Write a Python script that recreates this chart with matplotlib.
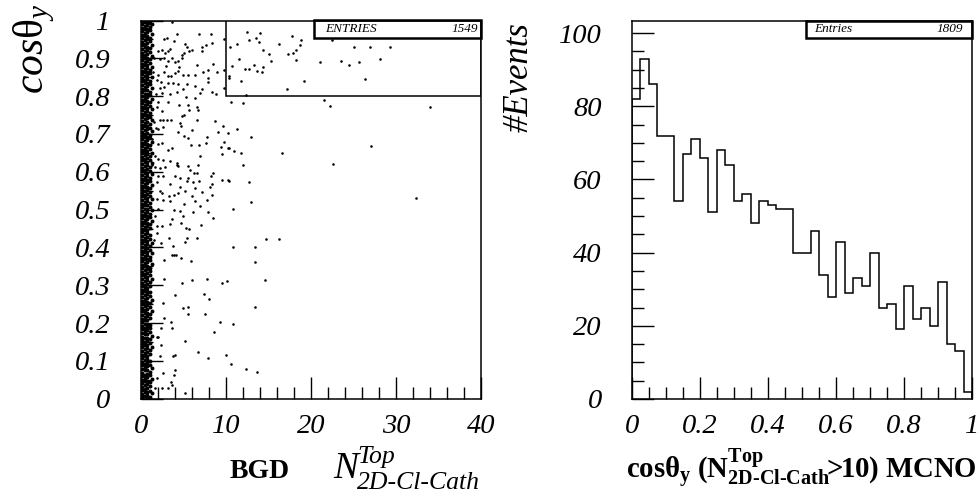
import numpy as np
import matplotlib
matplotlib.use("Agg")
import matplotlib.pyplot as plt
from matplotlib.patches import Rectangle
from matplotlib.ticker import MultipleLocator, FuncFormatter

plt.rcParams['font.family'] = ['Liberation Serif', 'DejaVu Serif']
plt.rcParams['font.style'] = 'italic'
plt.rcParams['mathtext.fontset'] = 'custom'
plt.rcParams['mathtext.rm'] = 'Liberation Serif:style=normal'
plt.rcParams['mathtext.it'] = 'Liberation Serif:style=italic'
plt.rcParams['mathtext.bf'] = 'Liberation Serif:style=normal:weight=bold'

# ---- left panel: scatter cos(theta_y) vs N_top (BGD) ----
# isolated points
sparse_x = [
    3.69, 2.71, 3.10, 4.27, 3.92, 6.86, 8.20, 9.76, 5.18, 5.45, 7.14, 7.22, 7.65, 8.31,
    2.04, 2.51, 2.82, 3.14, 3.45, 4.78, 5.06, 5.69, 5.96, 1.57, 2.23, 2.71, 3.14, 3.61,
    4.00, 4.39, 4.78, 2.94, 4.51, 6.63, 8.43, 9.72, 7.84, 1.41, 2.04, 2.74, 3.14, 3.53,
    4.00, 4.31, 4.90, 5.49, 6.35, 7.33, 7.92, 8.98, 1.92, 2.35, 3.14, 3.80, 4.39, 5.37,
    6.35, 7.92, 2.23, 2.71, 4.98, 7.22, 8.31, 8.78, 9.80, 1.72, 2.43, 3.45, 4.23, 5.25,
    6.35, 6.94, 2.04, 3.22, 4.51, 5.57, 6.63, 1.84, 2.51, 5.65, 6.75,
    2.23, 2.63, 3.02, 3.53, 4.86, 5.10, 6.63, 8.71, 9.69, 1.57, 1.72, 2.04, 2.63, 4.59,
    4.70, 5.96, 4.39, 5.10, 5.57, 7.73, 9.02, 9.76, 1.33, 2.04, 2.51, 3.22, 3.61, 5.84,
    6.82, 7.65, 9.41, 10.27, 9.49, 1.65, 2.04, 2.63, 3.41, 4.20, 4.39, 5.57, 6.67, 6.94,
    1.25, 1.65, 2.23, 2.82, 4.20, 5.76, 6.27, 6.55, 8.23, 8.51, 9.57, 10.27, 1.96, 2.63,
    4.00, 4.59, 5.57, 6.82, 5.37, 6.16, 1.84, 3.41, 4.59, 5.18, 6.35, 8.31, 8.12, 2.23,
    2.43, 3.29, 3.92, 4.39, 5.96, 7.14, 8.31, 1.84, 2.63, 3.41, 5.10, 6.35, 6.94, 7.73,
    2.04, 3.92, 4.59, 6.08, 7.92, 1.65, 4.98, 8.51, 3.69, 3.41, 4.70, 2.51, 1.84, 5.33,
    5.65, 7.06, 1.84, 3.33, 5.37, 6.63, 1.57, 2.35, 5.18, 3.73, 3.69, 3.92, 4.08, 4.67,
    2.74, 5.84, 2.74, 4.86, 6.04, 7.73, 9.57, 10.08, 4.00, 7.45, 8.04, 2.63,
    4.90, 5.57, 5.57, 7.53, 2.71, 3.57, 2.31, 3.69, 9.33, 8.59, 1.84, 2.04, 2.35, 5.18,
    2.23, 3.73, 3.96, 6.67, 7.92, 10.00, 3.96, 2.55, 3.88, 1.84, 3.57, 3.69, 1.65, 2.43,
    3.22, 5.18,
    12.43, 14.04, 12.70, 13.49, 13.88, 17.72, 18.82, 16.23, 11.25, 10.47, 14.39, 15.06,
    17.33, 17.92, 18.19, 18.70, 11.57, 15.25, 18.19, 21.06, 10.74, 12.23, 12.74, 13.29,
    13.68, 14.19, 14.31, 10.39, 10.39, 11.72, 19.21, 17.21, 12.35, 10.55, 11.96, 21.53,
    11.25, 10.19, 12.94, 10.35, 10.94, 11.72, 16.55, 12.04, 10.35, 12.70, 12.94,
    10.86, 14.70, 16.19, 10.78, 13.41, 13.45, 14.63, 13.45, 10.78, 10.59, 12.31, 13.61,
    22.5, 25.06, 26.9, 29.3, 23.5, 24.5, 25.6, 28.1, 26.4, 22.2, 34.0, 27.1, 22.6, 32.3,
]
sparse_y = [
    0.996, 0.952, 0.954, 0.963, 0.947, 0.965, 0.965, 0.952, 0.938, 0.931, 0.929, 0.919, 0.935, 0.940,
    0.919, 0.921, 0.914, 0.919, 0.925, 0.910, 0.915, 0.919, 0.921, 0.901, 0.897, 0.900, 0.892, 0.900,
    0.891, 0.892, 0.901, 0.881, 0.877, 0.882, 0.884, 0.870, 0.870, 0.864, 0.855, 0.864, 0.852, 0.853,
    0.861, 0.866, 0.855, 0.855, 0.855, 0.863, 0.848, 0.864, 0.844, 0.838, 0.835, 0.835, 0.833, 0.831,
    0.826, 0.838, 0.822, 0.825, 0.819, 0.820, 0.810, 0.806, 0.822, 0.806, 0.809, 0.806, 0.811, 0.797,
    0.796, 0.809, 0.784, 0.785, 0.776, 0.776, 0.771, 0.771, 0.760, 0.764, 0.764,
    0.738, 0.737, 0.738, 0.737, 0.747, 0.749, 0.737, 0.735, 0.721, 0.731, 0.716, 0.712, 0.719, 0.728,
    0.721, 0.710, 0.705, 0.696, 0.690, 0.693, 0.705, 0.678, 0.686, 0.674, 0.675, 0.659, 0.663, 0.670,
    0.670, 0.675, 0.666, 0.664, 0.647, 0.641, 0.633, 0.631, 0.628, 0.624, 0.615, 0.615, 0.619, 0.641,
    0.617, 0.613, 0.611, 0.613, 0.618, 0.606, 0.597, 0.596, 0.590, 0.597, 0.578, 0.578, 0.590, 0.589,
    0.589, 0.584, 0.584, 0.575, 0.575, 0.573, 0.573, 0.567, 0.560, 0.549, 0.558, 0.569, 0.560, 0.549,
    0.545, 0.536, 0.540, 0.543, 0.536, 0.546, 0.540, 0.529, 0.525, 0.523, 0.516, 0.523, 0.509, 0.525,
    0.501, 0.498, 0.496, 0.494, 0.493, 0.483, 0.484, 0.479, 0.474, 0.463, 0.466, 0.457, 0.457, 0.452,
    0.450, 0.459, 0.439, 0.426, 0.426, 0.424, 0.421, 0.412, 0.415, 0.404, 0.380, 0.380, 0.380, 0.373,
    0.366, 0.364, 0.316, 0.306, 0.313, 0.318, 0.306, 0.311, 0.274, 0.278, 0.264, 0.253,
    0.240, 0.242, 0.223, 0.225, 0.213, 0.203, 0.186, 0.186, 0.203, 0.176, 0.164, 0.163, 0.143, 0.153,
    0.113, 0.113, 0.117, 0.123, 0.107, 0.115, 0.077, 0.067, 0.062, 0.056, 0.045, 0.036, 0.029, 0.029,
    0.029, 0.016,
    0.970, 0.966, 0.949, 0.954, 0.944, 0.959, 0.949, 0.937, 0.937, 0.929, 0.921, 0.912,
    0.912, 0.915, 0.922, 0.935, 0.898, 0.894, 0.896, 0.891, 0.879, 0.873, 0.871, 0.882,
    0.867, 0.864, 0.877, 0.853, 0.849, 0.840, 0.840, 0.820, 0.804, 0.784, 0.781, 0.790,
    0.714, 0.702, 0.693, 0.663, 0.655, 0.651, 0.651, 0.619, 0.577, 0.572, 0.520,
    0.501, 0.423, 0.423, 0.402, 0.402, 0.361, 0.314, 0.243, 0.197, 0.092, 0.078, 0.070,
    0.948, 0.931, 0.929, 0.931, 0.894, 0.882, 0.889, 0.898, 0.845, 0.774, 0.771, 0.669, 0.620, 0.530,
]

# dense band of entries at N_top ~ 0-1, one list of cos values per column
band_cols = [0.12, 0.42, 0.72, 1.02, 1.35]
band_y_a = [
    0.004, 0.013, 0.022, 0.031, 0.042, 0.051, 0.060, 0.069, 0.080, 0.089, 0.098, 0.108, 0.117, 0.127,
    0.136, 0.146, 0.155, 0.164, 0.175, 0.184, 0.193, 0.203, 0.212, 0.222, 0.231, 0.241, 0.250, 0.259,
    0.269, 0.279, 0.288, 0.297, 0.307, 0.316, 0.326, 0.335, 0.345, 0.354, 0.364, 0.373, 0.383, 0.392,
    0.402, 0.411, 0.421, 0.430, 0.440, 0.449, 0.459, 0.468, 0.478, 0.487, 0.497, 0.506, 0.516, 0.525,
    0.535, 0.544, 0.554, 0.563, 0.573, 0.582, 0.592, 0.601, 0.611, 0.620, 0.630, 0.639, 0.649, 0.658,
    0.668, 0.677, 0.687, 0.696, 0.706, 0.715, 0.725, 0.734, 0.744, 0.753, 0.763, 0.772, 0.782, 0.791,
    0.801, 0.810, 0.820, 0.829, 0.839, 0.848, 0.858, 0.867, 0.877, 0.886, 0.896, 0.905, 0.915, 0.924,
    0.934, 0.943, 0.953, 0.962, 0.972, 0.981, 0.991, 0.998,
]
band_y_b = [
    0.008, 0.017, 0.027, 0.036, 0.046, 0.056, 0.064, 0.075, 0.084, 0.093, 0.103, 0.112, 0.122, 0.131,
    0.141, 0.150, 0.160, 0.170, 0.179, 0.188, 0.198, 0.207, 0.217, 0.226, 0.236, 0.245, 0.255, 0.264,
    0.274, 0.284, 0.293, 0.302, 0.312, 0.321, 0.331, 0.340, 0.350, 0.359, 0.369, 0.378, 0.388, 0.397,
    0.407, 0.416, 0.426, 0.435, 0.445, 0.454, 0.464, 0.473, 0.483, 0.492, 0.502, 0.511, 0.521, 0.530,
    0.540, 0.549, 0.559, 0.568, 0.578, 0.587, 0.597, 0.606, 0.616, 0.625, 0.635, 0.644, 0.654, 0.663,
    0.673, 0.682, 0.692, 0.701, 0.711, 0.720, 0.730, 0.739, 0.749, 0.758, 0.768, 0.777, 0.787, 0.796,
    0.806, 0.815, 0.825, 0.834, 0.844, 0.853, 0.863, 0.872, 0.882, 0.891, 0.901, 0.910, 0.920, 0.929,
    0.939, 0.948, 0.958, 0.967, 0.977, 0.986, 0.995,
]
band_y_c = [
    0.002, 0.011, 0.019, 0.029, 0.038, 0.047, 0.058, 0.066, 0.077, 0.086, 0.095, 0.104, 0.114, 0.124,
    0.133, 0.143, 0.152, 0.162, 0.171, 0.181, 0.190, 0.199, 0.209, 0.219, 0.228, 0.238, 0.247, 0.256,
    0.266, 0.276, 0.285, 0.294, 0.304, 0.313, 0.323, 0.332, 0.342, 0.352, 0.361, 0.370, 0.380, 0.389,
    0.399, 0.408, 0.418, 0.427, 0.437, 0.446, 0.456, 0.466, 0.475, 0.484, 0.494, 0.503, 0.513, 0.522,
    0.532, 0.541, 0.551, 0.560, 0.570, 0.579, 0.589, 0.598, 0.608, 0.617, 0.627, 0.636, 0.646, 0.655,
    0.665, 0.674, 0.684, 0.693, 0.703, 0.712, 0.722, 0.731, 0.741, 0.750, 0.760, 0.769, 0.779, 0.788,
    0.798, 0.807, 0.817, 0.826, 0.836, 0.845, 0.855, 0.864, 0.874, 0.883, 0.893, 0.902, 0.912, 0.921,
    0.931, 0.940, 0.950, 0.959, 0.969, 0.978, 0.988, 0.996,
]
band_y_d = [
    0.006, 0.020, 0.034, 0.044, 0.062, 0.071, 0.090, 0.101, 0.119, 0.128, 0.147, 0.158, 0.176, 0.186,
    0.195, 0.214, 0.224, 0.243, 0.252, 0.271, 0.281, 0.299, 0.309, 0.328, 0.338, 0.347, 0.366, 0.375,
    0.394, 0.404, 0.423, 0.432, 0.451, 0.461, 0.480, 0.489, 0.508, 0.518, 0.537, 0.546, 0.556, 0.575,
    0.584, 0.603, 0.613, 0.632, 0.641, 0.660, 0.670, 0.689, 0.698, 0.717, 0.727, 0.746, 0.755, 0.774,
    0.784, 0.803, 0.812, 0.831, 0.841, 0.860, 0.869, 0.888, 0.898, 0.917, 0.926, 0.945, 0.955, 0.974,
    0.983, 0.993,
]
band_y_e = [
    0.015, 0.053, 0.081, 0.137, 0.167, 0.233, 0.262, 0.318, 0.357, 0.385, 0.413, 0.470, 0.499, 0.527,
    0.565, 0.594, 0.622, 0.651, 0.679, 0.708, 0.736, 0.765, 0.793, 0.822, 0.850, 0.878, 0.907, 0.936,
    0.964, 0.990,
]
left_entries = 1549

# ---- right panel: cos(theta_y) histogram, 40 bins on [0, 1] (MCNO) ----
hist_counts = [
    82, 93, 86, 72, 72, 54, 67, 71, 66, 51, 68, 64, 54, 56, 48, 54, 53, 52, 52, 40,
    40, 46, 34, 28, 43, 29, 33, 31, 40, 25, 26, 19, 31, 22, 25, 20, 32, 15, 13, 2,
]
hist_range = (0.0, 1.0)
right_entries = 1809

fig = plt.figure(figsize=(9.78, 4.96), dpi=100)
W, H = 978.0, 496.0
ax1 = fig.add_axes([141 / W, 1 - 398.8 / H, 340 / W, 378.3 / H])
ax2 = fig.add_axes([631.7 / W, 1 - 399 / H, 340.6 / W, 378.3 / H])

# scatter (the crowded band near zero overlaps into a solid strip)
bx, by = [], []
for xc, ys in zip(band_cols, [band_y_a, band_y_b, band_y_c, band_y_d, band_y_e]):
    bx += [xc] * len(ys)
    by += ys
ax1.scatter(bx, by, s=8, c='k', marker='o', linewidths=0)
ax1.scatter(sparse_x, sparse_y, s=3.4, c='k', marker='o', linewidths=0)
ax1.add_patch(Rectangle((10, 0.8), 30, 0.2, fill=False, lw=1.1, ec='k'))
ax1.set_xlim(0, 40)
ax1.set_ylim(0, 1)
ax1.xaxis.set_major_locator(MultipleLocator(10))
ax1.xaxis.set_minor_locator(MultipleLocator(2))
ax1.yaxis.set_major_locator(MultipleLocator(0.1))
ax1.yaxis.set_minor_locator(MultipleLocator(0.05))

# histogram
edges = np.linspace(hist_range[0], hist_range[1], len(hist_counts) + 1)
ax2.stairs(hist_counts, edges, color='k', lw=1.1, baseline=0)
ax2.set_xlim(0, 1)
ax2.set_ylim(0, 103.4)
ax2.xaxis.set_major_locator(MultipleLocator(0.2))
ax2.xaxis.set_minor_locator(MultipleLocator(0.05))
ax2.yaxis.set_major_locator(MultipleLocator(20))
ax2.yaxis.set_minor_locator(MultipleLocator(5))

fmt = FuncFormatter(lambda v, p: '%g' % round(v, 6))
for ax, ypad in ((ax1, 22), (ax2, 21.5)):
    ax.xaxis.set_major_formatter(fmt)
    ax.yaxis.set_major_formatter(fmt)
    ax.tick_params(which='both', direction='in', top=False, right=False,
                   labelsize=20.5, width=1.0)
    ax.tick_params(which='major', length=15.8)
    ax.tick_params(which='minor', length=8.6)
    ax.tick_params(axis='y', pad=ypad)
    ax.tick_params(axis='x', pad=11)
    for lbl in ax.get_xticklabels() + ax.get_yticklabels():
        lbl.set_fontstyle('italic')
    for sp in ax.spines.values():
        sp.set_linewidth(1.1)

# stat boxes
for ax, label, n, x0, tx0, tx1 in ((ax1, 'ENTRIES', left_entries, 0.509, 0.541, 0.99),
                                   (ax2, 'Entries', right_entries, 0.511, 0.535, 0.974)):
    ax.add_patch(Rectangle((x0, 0.955), 1 - x0, 0.045, transform=ax.transAxes,
                           fill=False, lw=1.8, ec='k', clip_on=False, zorder=5))
    ax.text(tx0, 0.977, label, transform=ax.transAxes, fontsize=9.5, va='center', ha='left')
    ax.text(tx1, 0.977, str(n), transform=ax.transAxes, fontsize=9.5, va='center', ha='right')

# axis titles
fig.text(34 / W, 1 - 3 / H, r'$\mathit{cos}\mathrm{\theta}_{\mathit{y}}$', rotation=90,
         ha='center', va='top', fontsize=30)
fig.text(519 / W, 1 - 22 / H, '#Events', rotation=90, ha='center', va='top', fontsize=25)

fig.text(230 / W, 1 - 478 / H, 'BGD', fontsize=20, weight='bold', style='normal',
         ha='left', va='baseline')
fig.text(333 / W, 1 - 478 / H, 'N', fontsize=27, ha='left', va='baseline')
fig.text(357 / W, 1 - 463 / H, 'Top', fontsize=18.5, ha='left', va='baseline')
fig.text(357 / W, 1 - 489 / H, '2D-Cl-Cath', fontsize=18.5, ha='left', va='baseline')

hy = '\u2010'
right_title = (r'$\mathbf{cos\theta_{y}\ (N^{Top}_{2D' + hy + 'Cl' + hy
               + r'Cath}\!\!>\!\!10)\ MCNO}$')
fig.text(626 / W, 1 - 479 / H, right_title, fontsize=20.7, ha='left', va='baseline')

fig.savefig('out.png', dpi=100)
